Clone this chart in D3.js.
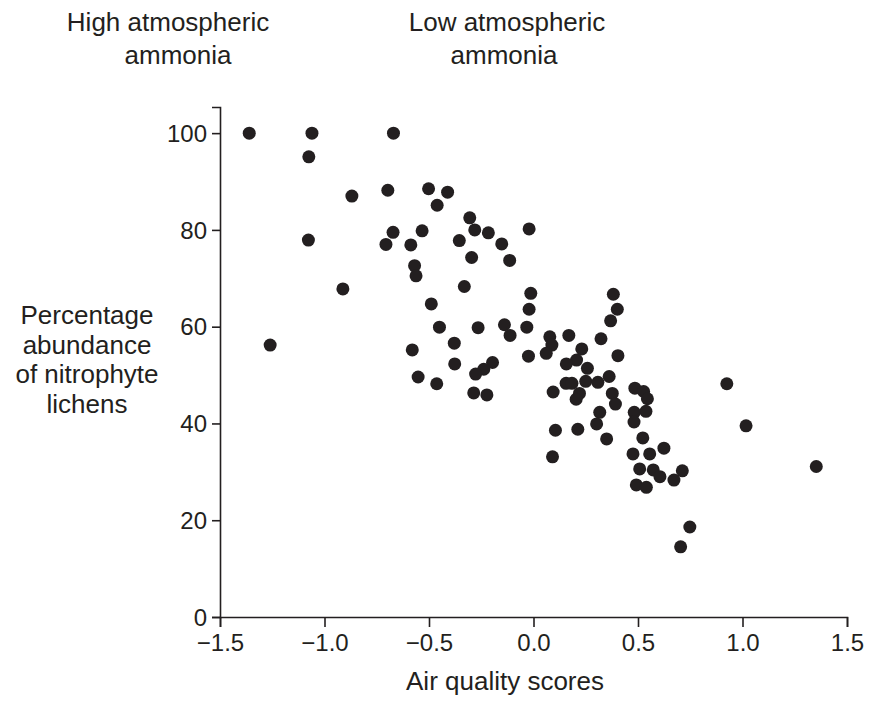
<!DOCTYPE html>
<html>
<head>
<meta charset="utf-8">
<script src="https://cdn.jsdelivr.net/npm/d3@7/dist/d3.min.js"></script>
<style>
  html, body { margin: 0; padding: 0; background: #fff; }
  svg { display: block; }
  text { font-family: "Liberation Sans", Arial, Helvetica, sans-serif; fill: #231f20; }
</style>
</head>
<body>
<svg id="chart" width="872" height="704"></svg>
<script>
// Air quality score (x) and percentage abundance of nitrophyte lichens (y)
const airQuality = [
  -1.36, -1.06, -0.67, -1.075, -0.869, -0.697, -0.502, -0.411, -0.461, -0.305,
  -0.672, -0.533, -1.077, -0.706, -0.587, -0.569, -0.562, -0.912, -0.281, -0.216,
  -0.021, -0.355, -0.152, -0.296, -0.114, -0.331, -0.013, -0.021, -0.489, -0.450,
  -0.265, -0.139, -0.112, -0.032, 0.078, 0.088, 0.061, -0.024, -0.379, -0.580,
  -0.377, -0.196, -0.238, -0.277, -0.552, -0.463, -0.286, -0.223, 0.094, 0.169,
  0.231, 0.206, 0.157, 0.258, 0.323, 0.382, 0.401, 0.369, 0.404, 0.156,
  0.184, 0.250, 0.308, 0.362, 0.220, 0.204, 0.377, 0.392, 0.485, 0.527,
  0.545, 0.538, 0.482, 0.317, 0.481, 0.302, 0.350, 0.105, 0.212, 0.091,
  0.523, 0.476, 0.556, 0.624, 0.508, 0.573, 0.605, 0.672, 0.712, 0.492,
  0.540, 0.704, 0.748, 0.925, 1.017, 1.353, -1.26
];
const nitrophytePct = [
  100, 100, 100, 95.1, 87.0, 88.2, 88.5, 87.8, 85.1, 82.5,
  79.5, 79.8, 77.9, 77.0, 76.9, 72.6, 70.5, 67.8, 80.0, 79.4,
  80.2, 77.8, 77.1, 74.3, 73.7, 68.3, 66.9, 63.6, 64.7, 59.9,
  59.8, 60.4, 58.2, 59.9, 57.9, 56.2, 54.5, 53.9, 56.6, 55.2,
  52.3, 52.6, 51.2, 50.2, 49.6, 48.2, 46.3, 45.9, 46.5, 58.2,
  55.4, 53.1, 52.3, 51.4, 57.5, 66.7, 63.6, 61.2, 54.0, 48.3,
  48.3, 48.7, 48.5, 49.7, 46.2, 45.0, 46.2, 44.0, 47.3, 46.6,
  45.1, 42.5, 42.3, 42.3, 40.3, 39.9, 36.8, 38.6, 38.8, 33.1,
  37.0, 33.7, 33.7, 34.9, 30.6, 30.4, 29.0, 28.3, 30.2, 27.3,
  26.8, 14.5, 18.6, 48.2, 39.5, 31.1, 56.2
];
const xTicks = [-1.5, -1.0, -0.5, 0.0, 0.5, 1.0, 1.5];
const yTicks = [0, 20, 40, 60, 80, 100];
const xDomain = [-1.5, 1.5];
const yDomain = [0, 105.4];
const xTitle = "Air quality scores";
const yTitleLines = ["Percentage", "abundance", "of nitrophyte", "lichens"];
const leftNote = ["High atmospheric", "ammonia"];
const rightNote = ["Low atmospheric", "ammonia"];

const points = airQuality.map((v, i) => ({ x: v, y: nitrophytePct[i] }));

const svg = d3.select("#chart");
const ink = "#231f20";

const x = d3.scaleLinear().domain(xDomain).range([220, 847]);
const y = d3.scaleLinear().domain(yDomain).range([617, 107]);

// x axis
const gx = svg.append("g")
  .attr("transform", `translate(0,${y(0)})`)
  .call(d3.axisBottom(x).tickValues(xTicks).tickFormat(d3.format(".1f")).tickSizeOuter(0).tickSize(10).tickPadding(5));
// y axis
const gy = svg.append("g")
  .attr("transform", `translate(${x(-1.5)},0)`)
  .call(d3.axisLeft(y).tickValues(yTicks).tickFormat(d3.format("d")).tickSizeOuter(0).tickSize(8).tickPadding(5));

[gx, gy].forEach(g => {
  g.select(".domain").attr("stroke", ink).attr("stroke-width", 1.6);
  g.selectAll(".tick line").attr("stroke", ink).attr("stroke-width", 1.6);
  g.selectAll(".tick text")
    .attr("font-family", "Liberation Sans, Arial, sans-serif")
    .attr("font-size", 24)
    .attr("fill", ink);
});
gx.selectAll(".tick text").attr("dy", "0.8em");
gy.selectAll(".tick text").attr("dy", "0.34em");

// points
svg.append("g")
  .selectAll("circle")
  .data(points)
  .join("circle")
  .attr("cx", d => x(d.x))
  .attr("cy", d => y(d.y))
  .attr("r", 6.5)
  .attr("fill", ink);

// x title
svg.append("text")
  .attr("x", 505).attr("y", 690)
  .attr("text-anchor", "middle")
  .attr("font-size", 26)
  .text(xTitle);

// y title (multi-line)
svg.append("text")
  .attr("text-anchor", "middle")
  .attr("font-size", 26)
  .selectAll("tspan")
  .data(yTitleLines)
  .join("tspan")
  .attr("x", 87)
  .attr("y", (d, i) => 324 + i * 29.5)
  .text(d => d);

// top notes
function note(lines, cx, dxs) {
  svg.append("text")
    .attr("text-anchor", "middle")
    .attr("font-size", 26)
    .selectAll("tspan")
    .data(lines)
    .join("tspan")
    .attr("x", (d, i) => cx + dxs[i])
    .attr("y", (d, i) => 31 + i * 33)
    .text(d => d);
}
note(leftNote, 168, [0, 10]);
note(rightNote, 507, [0, -3]);
</script>
</body>
</html>
